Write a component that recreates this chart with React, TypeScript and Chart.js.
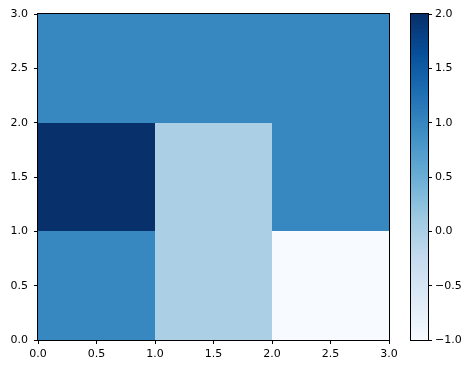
import React, { useEffect, useRef } from "react";
import { Chart, registerables } from "chart.js";

Chart.register(...registerables);

// Data
const xEdges = [0, 1, 2, 3];
const yEdges = [0, 1, 2, 3];
// rows from bottom (y 0-1) to top (y 2-3)
const row0 = [1, 0, -1];
const row1 = [2, 0, 1];
const row2 = [1, 1, 1];
const zRows = [row0, row1, row2];
const vMin = -1;
const vMax = 2;
const axisTicks = [0, 0.5, 1, 1.5, 2, 2.5, 3];
const colorbarTicks = [-1, -0.5, 0, 0.5, 1, 1.5, 2];
const bluesStops = ["#f7fbff", "#deebf7", "#c6dbef", "#9ecae1", "#6baed6", "#4292c6", "#2171b5", "#08519c", "#08306b"];

const FONT = { family: "'DejaVu Sans', sans-serif", size: 11 };

function hexToRgb(h: string) {
  return [parseInt(h.slice(1, 3), 16), parseInt(h.slice(3, 5), 16), parseInt(h.slice(5, 7), 16)];
}
function blues(v: number) {
  let t = (v - vMin) / (vMax - vMin);
  t = Math.max(0, Math.min(1, t));
  const p = t * (bluesStops.length - 1);
  const i = Math.min(Math.floor(p), bluesStops.length - 2);
  const f = p - i;
  const a = hexToRgb(bluesStops[i]);
  const b = hexToRgb(bluesStops[i + 1]);
  const c = a.map((x, k) => Math.round(x + (b[k] - x) * f));
  return `rgb(${c[0]},${c[1]},${c[2]})`;
}
const fmt = (v: any) => Number(v).toFixed(1).replace("-", "\u2212");

const meshPlugin = {
  id: "mesh",
  beforeDatasetsDraw(chart: any) {
    const { ctx, scales } = chart;
    const xs = scales.x, ys = scales.y;
    ctx.save();
    for (let r = 0; r < zRows.length; r++) {
      for (let c = 0; c < zRows[r].length; c++) {
        const x0 = Math.round(xs.getPixelForValue(xEdges[c]));
        const x1 = Math.round(xs.getPixelForValue(xEdges[c + 1]));
        const y0 = Math.round(ys.getPixelForValue(yEdges[r]));
        const y1 = Math.round(ys.getPixelForValue(yEdges[r + 1]));
        ctx.fillStyle = blues(zRows[r][c]);
        ctx.fillRect(x0, y1, x1 - x0, y0 - y1);
      }
    }
    ctx.restore();
  },
};

const cbPlugin = {
  id: "cbar",
  beforeDatasetsDraw(chart: any) {
    const { ctx, scales, chartArea } = chart;
    const ys = scales.y;
    const n = 256;
    ctx.save();
    for (let i = 0; i < n; i++) {
      const v0 = vMin + (vMax - vMin) * (i / n);
      const v1 = vMin + (vMax - vMin) * ((i + 1) / n);
      const py0 = ys.getPixelForValue(v0);
      const py1 = ys.getPixelForValue(v1);
      ctx.fillStyle = blues((v0 + v1) / 2);
      ctx.fillRect(chartArea.left, py1 - 0.5, chartArea.right - chartArea.left, py0 - py1 + 1);
    }
    ctx.restore();
  },
};

const tickGrid = {
  drawOnChartArea: false,
  drawTicks: true,
  tickLength: 4,
  color: "#000",
  tickColor: "#000",
  lineWidth: 1,
};

const framePlugin = (id: string) => ({
  id,
  afterDraw(chart: any) {
    const { ctx, chartArea: a } = chart;
    ctx.save();
    ctx.strokeStyle = "#000";
    ctx.lineWidth = 1;
    ctx.strokeRect(Math.round(a.left) - 0.5, Math.round(a.top) - 0.5, Math.round(a.right - a.left) + 1, Math.round(a.bottom - a.top) + 1);
    ctx.restore();
  },
});

export default function App() {
  const mainRef = useRef<HTMLCanvasElement>(null);
  const cbRef = useRef<HTMLCanvasElement>(null);

  useEffect(() => {
    const main = new Chart(mainRef.current!, {
      type: "scatter",
      data: { datasets: [{ data: [], pointRadius: 0 }] },
      options: {
        animation: false,
        responsive: false,
        maintainAspectRatio: false,
        layout: { padding: { left: 0, right: 85, top: 14, bottom: 0 } },
        plugins: { legend: { display: false }, tooltip: { enabled: false } },
        scales: {
          x: {
            type: "linear",
            min: 0,
            max: 3,
            afterBuildTicks: (s: any) => { s.ticks = axisTicks.map((v) => ({ value: v })); },
            afterFit: (s: any) => { s.height = 30; },
            ticks: { font: FONT, color: "#000", padding: 4, maxRotation: 0, callback: fmt },
            grid: tickGrid,
            border: { display: true, color: "#000", width: 1 },
          },
          y: {
            type: "linear",
            min: 0,
            max: 3,
            afterBuildTicks: (s: any) => { s.ticks = axisTicks.map((v) => ({ value: v })); },
            afterFit: (s: any) => { s.width = 38; },
            ticks: { font: FONT, color: "#000", padding: 6, callback: fmt },
            grid: tickGrid,
            border: { display: true, color: "#000", width: 1 },
          },
        },
      },
      plugins: [meshPlugin, framePlugin("frame")],
    } as any);

    const cb = new Chart(cbRef.current!, {
      type: "scatter",
      data: { datasets: [{ data: [], pointRadius: 0 }] },
      options: {
        animation: false,
        responsive: false,
        maintainAspectRatio: false,
        layout: { padding: { left: 411, right: 0, top: 14, bottom: 30 } },
        plugins: { legend: { display: false }, tooltip: { enabled: false } },
        scales: {
          x: { type: "linear", display: false, min: 0, max: 1 },
          y: {
            type: "linear",
            position: "right",
            min: vMin,
            max: vMax,
            afterBuildTicks: (s: any) => { s.ticks = colorbarTicks.map((v) => ({ value: v })); },
            afterFit: (s: any) => { s.width = 46; },
            ticks: { font: FONT, color: "#000", padding: 3, callback: fmt },
            grid: tickGrid,
            border: { display: false },
          },
        },
      },
      plugins: [cbPlugin, framePlugin("cbframe")],
    } as any);

    return () => { main.destroy(); cb.destroy(); };
  }, []);

  return (
    <div style={{ position: "absolute", left: 0, top: 0, width: 474, height: 370, background: "#fff" }}>
      <canvas ref={mainRef} width={474} height={370} style={{ position: "absolute", left: 0, top: 0, width: 474, height: 370 }} />
      <canvas ref={cbRef} width={474} height={370} style={{ position: "absolute", left: 0, top: 0, width: 474, height: 370 }} />
    </div>
  );
}
